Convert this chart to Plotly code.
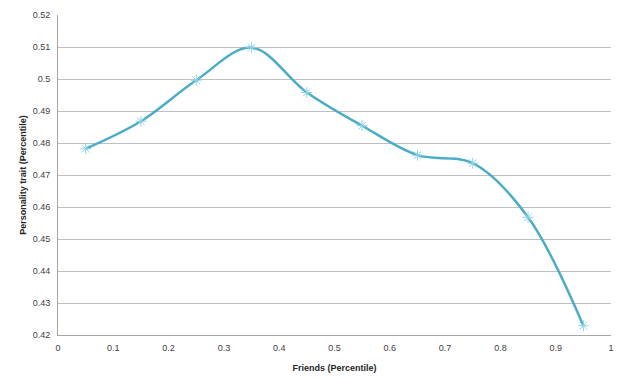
import plotly.graph_objects as go

friends = [0.05, 0.15, 0.25, 0.35, 0.45, 0.55, 0.65, 0.75, 0.85, 0.95]
trait = [0.4782, 0.4868, 0.4996, 0.5098, 0.4958, 0.4854, 0.4762, 0.4737, 0.4568, 0.4229]
x_ticks = [0, 0.1, 0.2, 0.3, 0.4, 0.5, 0.6, 0.7, 0.8, 0.9, 1]
x_labels = ["0", "0.1", "0.2", "0.3", "0.4", "0.5", "0.6", "0.7", "0.8", "0.9", "1"]
y_ticks = [0.42, 0.43, 0.44, 0.45, 0.46, 0.47, 0.48, 0.49, 0.5, 0.51, 0.52]
y_labels = ["0.42", "0.43", "0.44", "0.45", "0.46", "0.47", "0.48", "0.49", "0.5", "0.51", "0.52"]

fig = go.Figure()
fig.add_trace(go.Scatter(
    x=friends, y=trait, mode="lines+markers",
    line=dict(color="#4BACC6", width=2.5, shape="spline", smoothing=1.0),
    marker=dict(symbol="asterisk-open", size=9, color="#8FD3E6",
                line=dict(color="#8FD3E6", width=1)),
    showlegend=False,
))

font = dict(family="Liberation Sans, Arial, sans-serif", size=9, color="#404040")
title_font = dict(family="Liberation Sans, Arial, sans-serif", size=9, color="#262626")
fig.update_layout(
    width=616, height=370,
    margin=dict(l=50, r=13, t=7, b=43, autoexpand=False),
    paper_bgcolor="white", plot_bgcolor="white",
    font=font,
    xaxis=dict(range=[0, 1], tickvals=x_ticks, ticktext=x_labels,
               showgrid=False, zeroline=False, showline=True,
               linecolor="#A6A6A6", linewidth=1, ticks="", ticklen=0,
               ticklabelstandoff=4, automargin=False,
               title=dict(text="<b>Friends (Percentile)</b>", standoff=12, font=title_font)),
    yaxis=dict(range=[0.42, 0.52], tickvals=y_ticks, ticktext=y_labels,
               showgrid=True, gridcolor="#BFBFBF", gridwidth=1,
               zeroline=False, showline=True, linecolor="#A6A6A6", linewidth=1,
               ticks="", ticklabelstandoff=5, automargin=False,
               title=dict(text="<b>Personality trait (Percentile)</b>", standoff=4, font=title_font)),
)

fig.write_html("out.html")
